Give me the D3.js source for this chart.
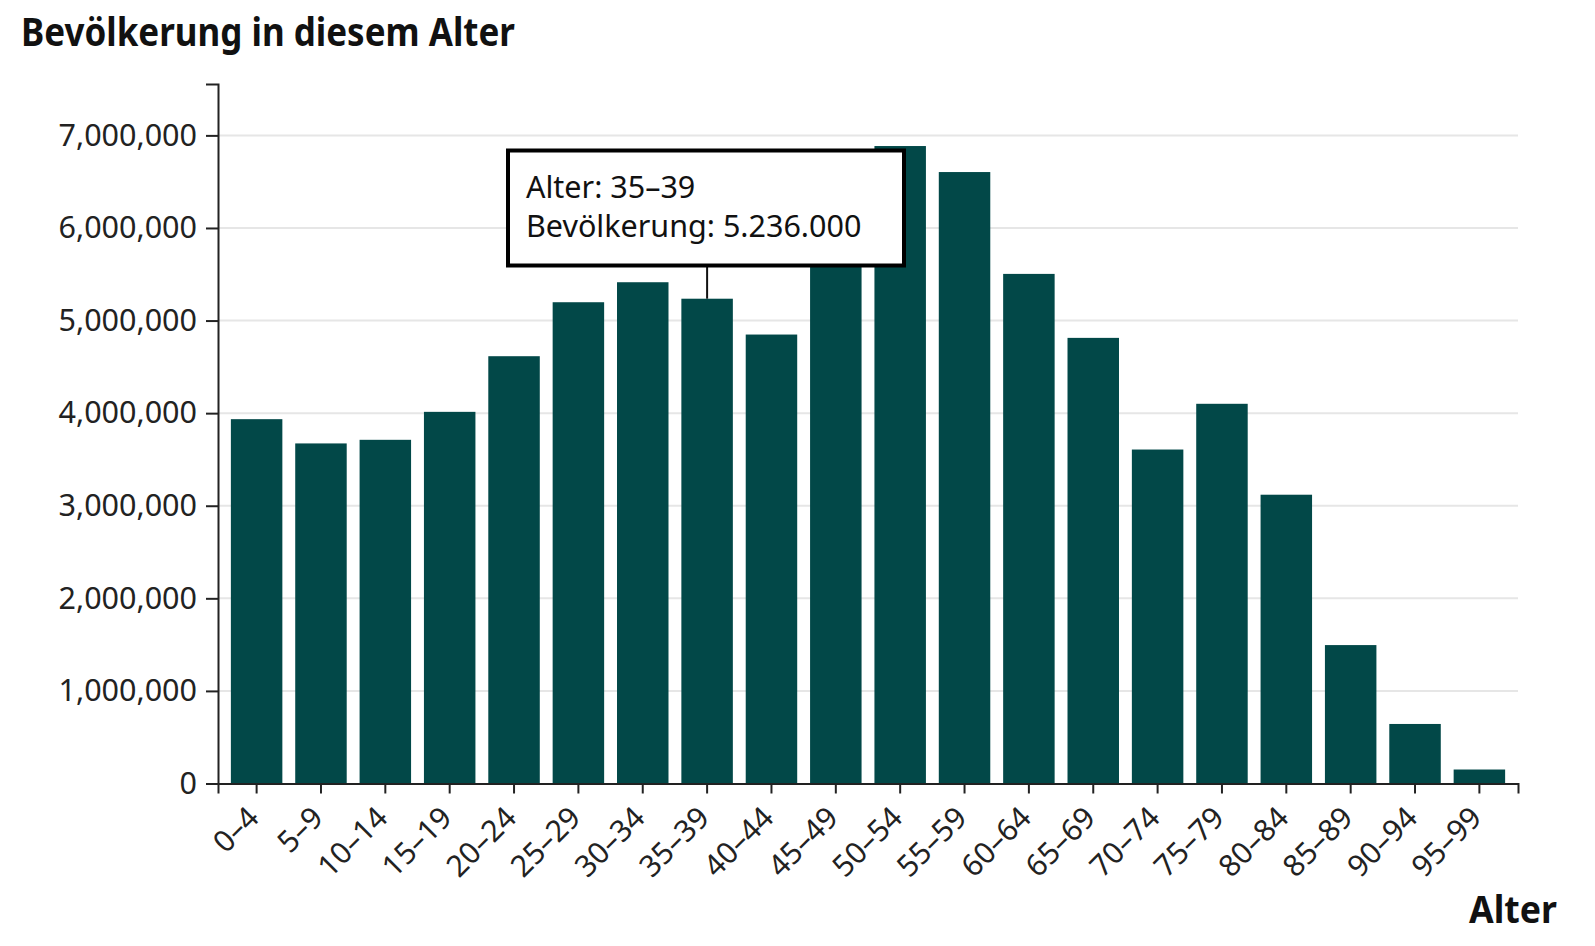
<!DOCTYPE html>
<html>
<head>
<meta charset="utf-8">
<script src="https://cdn.jsdelivr.net/npm/d3@7"></script>
<style>
  html, body { margin: 0; padding: 0; background: #fff; }
  svg { display: block; }
</style>
</head>
<body>
<svg id="chart" width="1595" height="946"></svg>
<script>
// ---- data ----
const ageGroups = ["0–4","5–9","10–14","15–19","20–24","25–29","30–34","35–39","40–44","45–49",
                   "50–54","55–59","60–64","65–69","70–74","75–79","80–84","85–89","90–94","95–99"];
const population = [3935000, 3673000, 3712000, 4014000, 4615000, 5198000, 5414000, 5236000, 4849000, 5960000,
                    6885000, 6604000, 5504000, 4813000, 3607000, 4101000, 3119000, 1495000, 643000, 151000];
const yTicks = [0, 1000000, 2000000, 3000000, 4000000, 5000000, 6000000, 7000000];
const yDomain = [0, 7555000];
const chartTitle = "Bevölkerung in diesem Alter";
const xTitle = "Alter";
const highlighted = "35–39";

// ---- layout ----
const plotLeft = 218, plotRight = 1518, plotTop = 84, plotBottom = 783.5;
const barColor = "#024848";
const font = "'Noto Sans', 'Open Sans', sans-serif";

const svg = d3.select("#chart");

const x = d3.scaleBand().domain(ageGroups).range([plotLeft, plotRight]).paddingInner(0.2).paddingOuter(0.2);
const y = d3.scaleLinear().domain(yDomain).range([plotBottom, plotTop]);

// gridlines
svg.append("g")
  .selectAll("line")
  .data(yTicks.filter(d => d > 0))
  .join("line")
  .attr("x1", plotLeft).attr("x2", plotRight)
  .attr("y1", d => y(d)).attr("y2", d => y(d))
  .attr("stroke", "#e6e6e6").attr("stroke-width", 2);

// bars
svg.append("g")
  .selectAll("rect")
  .data(ageGroups.map((a, i) => ({age: a, value: population[i]})))
  .join("rect")
  .attr("x", d => x(d.age))
  .attr("width", x.bandwidth())
  .attr("y", d => y(d.value))
  .attr("height", d => y(0) - y(d.value))
  .attr("fill", barColor);

// y axis
const yAxis = svg.append("g")
  .attr("transform", `translate(${plotLeft},0)`)
  .call(d3.axisLeft(y).tickValues(yTicks).tickFormat(d3.format(",")).tickSize(12).tickSizeOuter(12).tickPadding(9));
yAxis.select(".domain").attr("stroke", "#222").attr("stroke-width", 2);
yAxis.selectAll(".tick line").attr("stroke", "#222").attr("stroke-width", 2);
yAxis.selectAll(".tick text")
  .attr("font-family", font).attr("font-size", 30.5).attr("fill", "#222");

// x axis
const xAxis = svg.append("g")
  .attr("transform", `translate(0,${plotBottom})`)
  .call(d3.axisBottom(x).tickSize(10).tickSizeOuter(10));
xAxis.select(".domain").attr("stroke", "#222").attr("stroke-width", 2);
xAxis.selectAll(".tick line").attr("stroke", "#222").attr("stroke-width", 2);
xAxis.selectAll(".tick text")
  .attr("font-family", font).attr("font-size", 30).attr("fill", "#222")
  .attr("text-anchor", "end")
  .attr("y", 0).attr("dy", 0)
  .attr("transform", "translate(4,36) rotate(-45)");

// titles
svg.append("text")
  .attr("x", 21).attr("y", 46)
  .attr("font-family", font).attr("font-weight", 700).attr("font-size", 39)
  .attr("textLength", 494).attr("lengthAdjust", "spacingAndGlyphs")
  .attr("fill", "#111")
  .text(chartTitle);

svg.append("text")
  .attr("x", 1469).attr("y", 923)
  .attr("font-family", font).attr("font-weight", 700).attr("font-size", 38)
  .attr("textLength", 88).attr("lengthAdjust", "spacingAndGlyphs")
  .attr("fill", "#111")
  .text(xTitle);

// tooltip
const hIdx = ageGroups.indexOf(highlighted);
const hx = x(highlighted) + x.bandwidth() / 2;
const boxX = 508, boxY = 150.5, boxW = 396, boxH = 115;
svg.append("line")
  .attr("x1", hx).attr("x2", hx)
  .attr("y1", boxY + boxH).attr("y2", y(population[hIdx]))
  .attr("stroke", "#111").attr("stroke-width", 2);
svg.append("rect")
  .attr("x", boxX).attr("y", boxY).attr("width", boxW).attr("height", boxH)
  .attr("fill", "#fff").attr("stroke", "#000").attr("stroke-width", 4);
const fmtDE = d3.formatLocale({decimal: ",", thousands: ".", grouping: [3], currency: ["", "€"]}).format(",");
svg.append("text")
  .attr("x", 526).attr("y", 198)
  .attr("font-family", font).attr("font-size", 30.5).attr("fill", "#111")
  .text(`Alter: ${highlighted}`);
svg.append("text")
  .attr("x", 526).attr("y", 237)
  .attr("font-family", font).attr("font-size", 30.5).attr("fill", "#111")
  .text(`Bevölkerung: ${fmtDE(population[hIdx])}`);
</script>
</body>
</html>
